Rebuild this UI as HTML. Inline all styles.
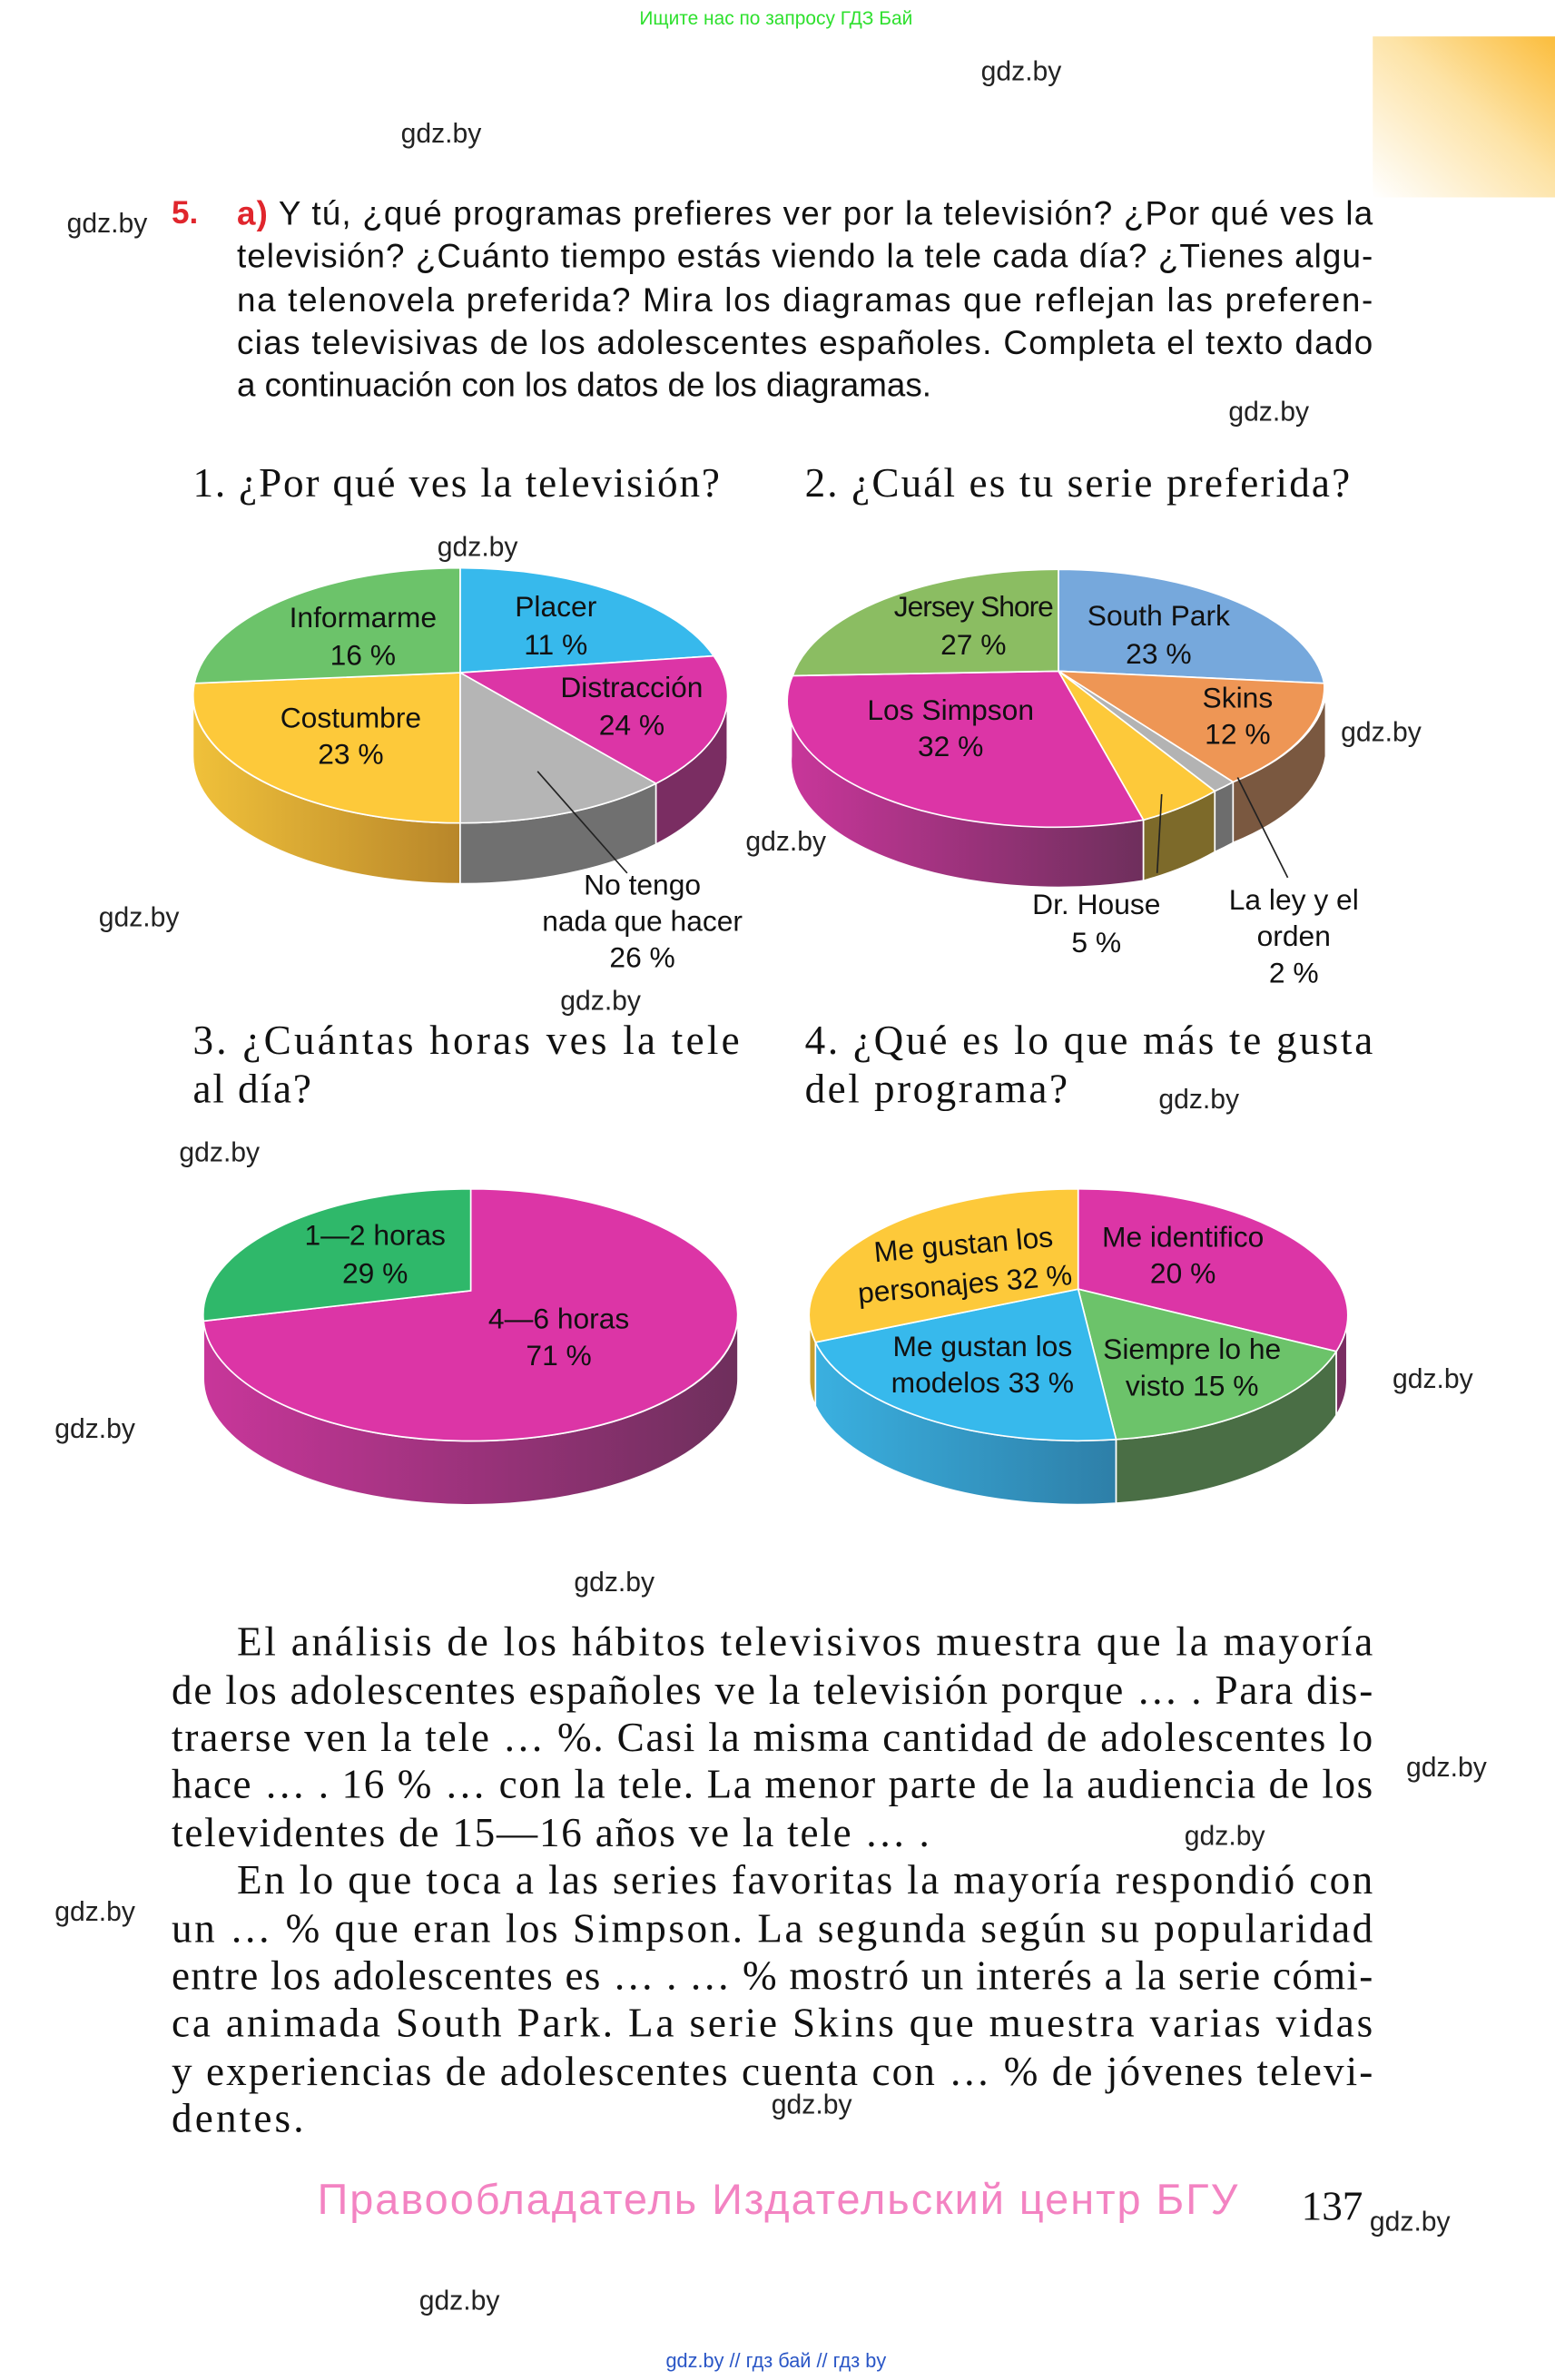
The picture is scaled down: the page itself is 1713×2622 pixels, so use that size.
<!DOCTYPE html>
<html><head><meta charset="utf-8"><style>
html,body{margin:0;padding:0;background:#fff;}
svg{display:block;}
.s{font-family:"Liberation Sans",sans-serif;}
.r{font-family:"Liberation Serif",serif;}
.w{font-family:"Liberation Sans",sans-serif;font-size:18px;fill:#222;}
.l{font-family:"Liberation Sans",sans-serif;font-size:19px;fill:#111;text-anchor:middle;}
</style></head><body>
<svg width="1713" height="2622" viewBox="0 0 1024 1567.4" xmlns="http://www.w3.org/2000/svg">
<defs>
<linearGradient id="og" x1="0" y1="1" x2="1" y2="0">
<stop offset="0" stop-color="#fff"/><stop offset="0.55" stop-color="#fde3a6"/><stop offset="1" stop-color="#fbbd3c"/></linearGradient>
<linearGradient id="ys" x1="0" x2="1"><stop offset="0" stop-color="#f0c13a"/><stop offset="1" stop-color="#b8862a"/></linearGradient>
<linearGradient id="ms" x1="0" x2="1"><stop offset="0" stop-color="#c8369a"/><stop offset="1" stop-color="#6e2f5c"/></linearGradient>
<linearGradient id="bs" x1="0" x2="1"><stop offset="0" stop-color="#3ab0e0"/><stop offset="1" stop-color="#2e7fa8"/></linearGradient>
</defs>
<rect width="1024" height="1567.4" fill="#fff"/>
<rect x="904" y="24" width="120" height="106" fill="url(#og)"/>
<text x="511" y="16" class="s" font-size="12.5" fill="#2ee02e" text-anchor="middle">Ищите нас по запросу ГДЗ Бай</text>

<g class="s" font-size="22" fill="#111">
<text x="113" y="147" fill="#e0262d" font-weight="bold" font-size="21">5.</text>
<text x="156" y="148" textLength="748" lengthAdjust="spacing"><tspan fill="#e0262d" font-weight="bold">a)</tspan> Y tú, ¿qué programas prefieres ver por la televisión? ¿Por qué ves la</text>
<text x="156" y="176" textLength="748" lengthAdjust="spacing">televisión? ¿Cuánto tiempo estás viendo la tele cada día? ¿Tienes algu-</text>
<text x="156" y="205" textLength="748" lengthAdjust="spacing">na telenovela preferida? Mira los diagramas que reflejan las preferen-</text>
<text x="156" y="233" textLength="748" lengthAdjust="spacing">cias televisivas de los adolescentes españoles. Completa el texto dado</text>
<text x="156" y="261">a continuación con los datos de los diagramas.</text>
</g>

<g class="r" font-size="27" fill="#111">
<text x="127" y="327" textLength="347" lengthAdjust="spacing">1. ¿Por qué ves la televisión?</text>
<text x="530" y="327" textLength="359" lengthAdjust="spacing">2. ¿Cuál es tu serie preferida?</text>
<text x="127" y="694" textLength="360" lengthAdjust="spacing">3. ¿Cuántas horas ves la tele</text>
<text x="127" y="726" textLength="78" lengthAdjust="spacing">al día?</text>
<text x="530" y="694" textLength="374" lengthAdjust="spacing">4. ¿Qué es lo que más te gusta</text>
<text x="530" y="726" textLength="173" lengthAdjust="spacing">del programa?</text>
</g>

<!-- Pie 1 -->
<g stroke="#fff" stroke-width="1">
<path d="M127,458 A176,84 0 0 0 303,542 L303,582 A176,84 0 0 1 127,498 Z" fill="url(#ys)"/>
<path d="M303,542 A176,84 0 0 0 432,516 L432,556 A176,84 0 0 1 303,582 Z" fill="#707070"/>
<path d="M432,516 A176,84 0 0 0 479,458 L479,498 A176,84 0 0 1 432,556 Z" fill="#7a2d62"/>
<path d="M303,443 L303,374 A176,84 0 0 1 470,432 Z" fill="#37b9ec"/>
<path d="M303,443 L470,432 A176,84 0 0 1 432,516 Z" fill="#dc35a6"/>
<path d="M303,443 L432,516 A176,84 0 0 1 303,542 Z" fill="#b5b5b5"/>
<path d="M303,443 L303,542 A176,84 0 0 1 128,450 Z" fill="#fdc93a"/>
<path d="M303,443 L128,450 A176,84 0 0 1 303,374 Z" fill="#6cc36a"/>
</g>
<line x1="354" y1="508" x2="413" y2="575" stroke="#222" stroke-width="1"/>
<text class="l" x="239" y="413">Informarme</text><text class="l" x="239" y="438">16 %</text>
<text class="l" x="366" y="406">Placer</text><text class="l" x="366" y="431">11 %</text>
<text class="l" x="416" y="459">Distracción</text><text class="l" x="416" y="484">24 %</text>
<text class="l" x="231" y="479">Costumbre</text><text class="l" x="231" y="503">23 %</text>
<text class="l" x="423" y="589">No tengo</text><text class="l" x="423" y="613">nada que hacer</text><text class="l" x="423" y="637">26 %</text>

<!-- Pie 2 -->
<g stroke="#fff" stroke-width="1">
<path d="M521,458 A176,83 0 0 0 753,540 L753,580 A176,83 0 0 1 521,498 Z" fill="url(#ms)"/>
<path d="M753,540 A176,83 0 0 0 800,521 L800,561 A176,83 0 0 1 753,580 Z" fill="#7d6a2a"/>
<path d="M800,521 A176,83 0 0 0 812,515 L812,555 A176,83 0 0 1 800,561 Z" fill="#6d6d6d"/>
<path d="M812,515 A176,83 0 0 0 873,458 L873,498 A176,83 0 0 1 812,555 Z" fill="#7a5840"/>
<path d="M697,442 L697,375 A176,83 0 0 1 872,450 Z" fill="#76a8dc"/>
<path d="M697,442 L872,450 A176,83 0 0 1 812,515 Z" fill="#ee9655"/>
<path d="M697,442 L812,515 A176,83 0 0 1 800,521 Z" fill="#b3b3b3"/>
<path d="M697,442 L800,521 A176,83 0 0 1 753,540 Z" fill="#fdc93a"/>
<path d="M697,442 L753,540 A176,83 0 0 1 522,445 Z" fill="#dc35a6"/>
<path d="M697,442 L522,445 A176,83 0 0 1 697,375 Z" fill="#8bbd62"/>
</g>
<line x1="765" y1="523" x2="762" y2="575" stroke="#222" stroke-width="1"/>
<line x1="815" y1="512" x2="848" y2="578" stroke="#222" stroke-width="1"/>
<text class="l" x="641" y="406" letter-spacing="-0.6">Jersey Shore</text><text class="l" x="641" y="431">27 %</text>
<text class="l" x="763" y="412">South Park</text><text class="l" x="763" y="437">23 %</text>
<text class="l" x="815" y="466">Skins</text><text class="l" x="815" y="490">12 %</text>
<text class="l" x="626" y="474">Los Simpson</text><text class="l" x="626" y="498">32 %</text>
<text class="l" x="722" y="602">Dr. House</text><text class="l" x="722" y="627">5 %</text>
<text class="l" x="852" y="599">La ley y el</text><text class="l" x="852" y="623">orden</text><text class="l" x="852" y="647">2 %</text>

<!-- Pie 3 -->
<g stroke="#fff" stroke-width="1">
<path d="M134,866 A176,83 0 0 0 486,866 L486,908 A176,83 0 0 1 134,908 Z" fill="url(#ms)"/>
<path d="M310,850 L310,783 A176,83 0 1 1 134,870 Z" fill="#dc35a6"/>
<path d="M310,850 L134,870 A176,83 0 0 1 310,783 Z" fill="#2fb86a"/>
</g>
<text class="l" x="247" y="820">1—2 horas</text><text class="l" x="247" y="845">29 %</text>
<text class="l" x="368" y="875">4—6 horas</text><text class="l" x="368" y="899">71 %</text>

<!-- Pie 4 -->
<g stroke="#fff" stroke-width="1">
<path d="M533,866 A177,83 0 0 0 537,884 L537,926 A177,83 0 0 1 533,908 Z" fill="#c9a02e"/>
<path d="M537,884 A177,83 0 0 0 735,948 L735,990 A177,83 0 0 1 537,926 Z" fill="url(#bs)"/>
<path d="M735,948 A177,83 0 0 0 880,890 L880,932 A177,83 0 0 1 735,990 Z" fill="#4a6e45"/>
<path d="M880,890 A177,83 0 0 0 887,866 L887,908 A177,83 0 0 1 880,932 Z" fill="#7a2d62"/>
<path d="M710,849 L710,783 A177,83 0 0 1 880,890 Z" fill="#dc35a6"/>
<path d="M710,849 L880,890 A177,83 0 0 1 735,948 Z" fill="#6cc36a"/>
<path d="M710,849 L735,948 A177,83 0 0 1 537,884 Z" fill="#37b9ec"/>
<path d="M710,849 L537,884 A177,83 0 0 1 710,783 Z" fill="#fdc93a"/>
</g>
<text class="l" x="635" y="826" transform="rotate(-5 635 826)">Me gustan los</text>
<text class="l" x="636" y="852" transform="rotate(-5 636 852)">personajes 32 %</text>
<text class="l" x="779" y="821">Me identifico</text><text class="l" x="779" y="845">20 %</text>
<text class="l" x="647" y="893">Me gustan los</text><text class="l" x="647" y="917">modelos 33 %</text>
<text class="l" x="785" y="895">Siempre lo he</text><text class="l" x="785" y="919">visto 15 %</text>

<!-- Bottom text -->
<g class="r" font-size="27" fill="#111">
<text x="156" y="1090" textLength="748" lengthAdjust="spacing">El análisis de los hábitos televisivos muestra que la mayoría</text>
<text x="113" y="1122" textLength="791" lengthAdjust="spacing">de  los adolescentes españoles ve la televisión porque … . Para dis-</text>
<text x="113" y="1153" textLength="791" lengthAdjust="spacing">traerse  ven la tele  … %. Casi la misma cantidad de adolescentes lo</text>
<text x="113" y="1184" textLength="791" lengthAdjust="spacing">hace  … . 16 %  … con la tele. La menor parte de la audiencia  de los</text>
<text x="113" y="1216" textLength="499" lengthAdjust="spacing">televidentes de 15—16 años ve la tele  … .</text>
<text x="156" y="1247" textLength="748" lengthAdjust="spacing">En lo  que toca a las series favoritas   la mayoría respondió con</text>
<text x="113" y="1279" textLength="791" lengthAdjust="spacing">un … % que eran los Simpson. La segunda según su popularidad</text>
<text x="113" y="1310" textLength="791" lengthAdjust="spacing">entre los adolescentes es … . … % mostró un interés a la serie cómi-</text>
<text x="113" y="1341" textLength="791" lengthAdjust="spacing">ca animada South Park. La serie Skins que muestra varias vidas</text>
<text x="113" y="1373" textLength="791" lengthAdjust="spacing">y experiencias de adolescentes cuenta con … % de  jóvenes televi-</text>
<text x="113" y="1404" textLength="87" lengthAdjust="spacing">dentes.</text>
</g>

<text x="209" y="1458" class="s" font-size="28" fill="#f383c2" textLength="606" lengthAdjust="spacing">Правообладатель Издательский центр БГУ</text>
<text x="857" y="1462" class="r" font-size="27" fill="#111">137</text>
<text x="511" y="1559" class="s" font-size="13" fill="#2a56c6" text-anchor="middle">gdz.by  //  гдз бай  //  гдз by</text>

<g class="w">
<text x="646" y="53">gdz.by</text>
<text x="264" y="94">gdz.by</text>
<text x="44" y="153">gdz.by</text>
<text x="809" y="277">gdz.by</text>
<text x="288" y="366">gdz.by</text>
<text x="883" y="488">gdz.by</text>
<text x="491" y="560">gdz.by</text>
<text x="65" y="610">gdz.by</text>
<text x="369" y="665">gdz.by</text>
<text x="763" y="730">gdz.by</text>
<text x="118" y="765">gdz.by</text>
<text x="36" y="947">gdz.by</text>
<text x="917" y="914">gdz.by</text>
<text x="378" y="1048">gdz.by</text>
<text x="926" y="1170">gdz.by</text>
<text x="780" y="1215">gdz.by</text>
<text x="36" y="1265">gdz.by</text>
<text x="508" y="1392">gdz.by</text>
<text x="902" y="1469">gdz.by</text>
<text x="276" y="1521">gdz.by</text>
</g>
</svg>
</body></html>
